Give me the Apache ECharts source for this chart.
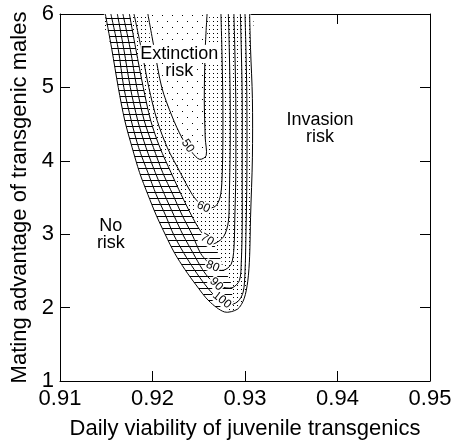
<!DOCTYPE html>
<html><head><meta charset="utf-8">
<script src="https://cdn.jsdelivr.net/npm/echarts@6/dist/echarts.min.js"></script>
<style>html,body{margin:0;padding:0;background:#fff}#c{width:456px;height:445px}</style>
</head><body><div id="c"></div>
<script>
// ---------- data ----------
const xTicks = [0.91, 0.92, 0.93, 0.94, 0.95];
const yTicks = [1, 2, 3, 4, 5, 6];
const xTitle = 'Daily viability of juvenile transgenics';
const yTitle = 'Mating advantage of transgenic males';

// outer boundary of the risk region [viability, mating advantage]
const boundary = [[0.9149,6],[0.9156,5.52],[0.9163,5.0],[0.9170,4.55],[0.9178,4.18],[0.9186,3.84],[0.9195,3.54],[0.9204,3.26],[0.9214,2.99],[0.9224,2.74],[0.9235,2.52],[0.9247,2.31],[0.9261,2.09],[0.9278,1.94],[0.9292,1.98],[0.9299,2.12],[0.9303,2.36],[0.9305,2.70],[0.9306,3.23],[0.9308,4.04],[0.9308,4.85],[0.9306,5.52],[0.9305,6]];
const contour100 = [[0.9155,6],[0.9163,5.52],[0.9169,5.0],[0.9177,4.55],[0.9185,4.18],[0.9195,3.84],[0.9204,3.54],[0.9214,3.26],[0.9223,2.99],[0.9234,2.74],[0.9245,2.52],[0.9257,2.31],[0.9269,2.14],[0.9282,2.04],[0.9292,2.08],[0.9298,2.21],[0.9300,2.49],[0.9301,2.97],[0.9302,3.77],[0.9302,4.85],[0.9301,5.52],[0.9300,6]];
const contour90 = [[0.9162,6],[0.9169,5.52],[0.9176,5.0],[0.9184,4.55],[0.9193,4.18],[0.9203,3.84],[0.9213,3.54],[0.9223,3.26],[0.9233,2.99],[0.9244,2.74],[0.9254,2.52],[0.9262,2.39],[0.9273,2.29],[0.9286,2.27],[0.9294,2.37],[0.9296,2.63],[0.9297,3.10],[0.9297,3.77],[0.9297,4.85],[0.9296,5.52],[0.9295,6]];
const contour80 = [[0.9168,6],[0.9176,5.52],[0.9183,5.0],[0.9191,4.55],[0.9201,4.18],[0.9211,3.84],[0.9222,3.54],[0.9232,3.26],[0.9243,2.99],[0.9252,2.74],[0.9259,2.63],[0.9266,2.53],[0.9277,2.51],[0.9285,2.59],[0.9288,2.80],[0.9289,3.23],[0.9290,3.77],[0.9290,4.85],[0.9289,5.52],[0.9288,6]];
const contour70 = [[0.9175,6],[0.9182,5.52],[0.9190,5.0],[0.9198,4.55],[0.9208,4.18],[0.9220,3.84],[0.9231,3.54],[0.9242,3.26],[0.9251,3.06],[0.9259,2.94],[0.9266,2.87],[0.9277,2.97],[0.9282,3.17],[0.9283,3.50],[0.9284,4.18],[0.9284,4.85],[0.9283,5.52],[0.9282,6]];
const contour60 = [[0.9180,6],[0.9188,5.52],[0.9196,5.0],[0.9205,4.55],[0.9216,4.18],[0.9230,3.84],[0.9243,3.54],[0.9251,3.42],[0.9259,3.36],[0.9268,3.38],[0.9273,3.50],[0.9275,3.71],[0.9276,4.18],[0.9276,4.85],[0.9275,5.52],[0.9274,6]];
const contour50 = [[0.9195,6],[0.9202,5.52],[0.9210,5.0],[0.9221,4.61],[0.9232,4.31],[0.9243,4.11],[0.9251,4.02],[0.9258,4.07],[0.9257,4.31],[0.9256,4.85],[0.9257,5.52],[0.9259,6]];

const contourLevels = ['100', '90', '80', '70', '60', '50'];
const contourLabelAt = [[0.9275,2.104],[0.9269,2.319],[0.9265,2.561],[0.9259,2.925],[0.9255,3.369],[0.9238,4.203]];

const regionTexts = [['Extinction','risk'], ['Invasion','risk'], ['No','risk']];
const regionAt = [[0.9229,5.34],[0.9381,4.445],[0.9155,3.0]];

// ---------- rendering ----------
const F = '"Liberation Sans", Arial, Helvetica, sans-serif';
const labelAngles = [-38, -45, -22, -30, -25, -56];

function makePattern(w, h, draw) {
  const c = document.createElement('canvas');
  c.width = w; c.height = h;
  const g = c.getContext('2d');
  g.fillStyle = '#fff'; g.fillRect(0, 0, w, h);
  g.fillStyle = '#000';
  draw(g);
  return { image: c, repeat: 'repeat' };
}
const densePat = makePattern(4, 4, g => g.fillRect(1, 1, 1, 1));
const sparsePat = makePattern(10, 12, g => { g.fillRect(2, 3, 1, 1); g.fillRect(7, 9, 1, 1); });
const hatchPat = makePattern(6, 6, g => g.fillRect(0, 0, 6, 1));

function leftBranch(c) {
  let k = 0;
  c.forEach((p, i) => { if (p[1] < c[k][1]) k = i; });
  return c.slice(0, k + 1);
}

const hatchRings = [boundary, contour100, contour90, contour80, contour70];
const allContours = [boundary, contour100, contour90, contour80, contour70, contour60, contour50];

function renderItem(params, api) {
  const co = p => api.coord(p);
  const S = 0.3;
  const ch = [];
  ch.push({ type: 'polygon', shape: { points: boundary.map(co), smooth: S }, style: { fill: densePat, stroke: null } });
  for (let i = 0; i < hatchRings.length - 1; i++) {
    const a = leftBranch(hatchRings[i]);
    const b = leftBranch(hatchRings[i + 1]).slice().reverse();
    ch.push({ type: 'polygon', shape: { points: a.concat(b).map(co), smooth: S }, style: { fill: hatchPat, stroke: null } });
  }
  ch.push({ type: 'polygon', shape: { points: contour50.map(co), smooth: S }, style: { fill: sparsePat, stroke: null } });
  allContours.forEach(c => ch.push({ type: 'polyline', shape: { points: c.map(co), smooth: S }, style: { stroke: '#000', lineWidth: 1, fill: null } }));
  contourLevels.forEach((t, i) => {
    const p = co(contourLabelAt[i]);
    ch.push({ type: 'text', x: p[0], y: p[1], rotation: labelAngles[i] * Math.PI / 180,
      style: { text: t, font: '12px ' + F, fill: '#000', align: 'center', verticalAlign: 'middle', backgroundColor: '#fff', padding: [0, 1] } });
  });
  regionTexts.forEach((lines, i) => {
    const p = co(regionAt[i]);
    const lh = 17;
    lines.forEach((t, j) => {
      ch.push({ type: 'text', x: p[0], y: p[1] + (j - (lines.length - 1) / 2) * lh,
        style: { text: t, font: '18px ' + F, fill: '#000', align: 'center', verticalAlign: 'middle', backgroundColor: '#fff' } });
    });
  });
  return { type: 'group', children: ch };
}

const axisCommon = {
  type: 'value',
  axisLine: { show: true, onZero: false, lineStyle: { color: '#000', width: 1 } },
  axisTick: { show: true, inside: true, length: 10, lineStyle: { color: '#000', width: 1 } },
  splitLine: { show: false }
};
const chart = echarts.init(document.getElementById('c'), null, { renderer: 'canvas' });
chart.setOption({
  animation: false,
  backgroundColor: '#fff',
  grid: { left: 60, right: 26, top: 14, bottom: 59 },
  xAxis: [
    Object.assign({}, axisCommon, {
      position: 'bottom', min: xTicks[0], max: xTicks[xTicks.length - 1], interval: 0.01,
      axisLabel: { color: '#000', fontSize: 22, fontFamily: F, margin: 7, formatter: v => v.toFixed(2) },
      name: xTitle, nameLocation: 'middle', nameGap: 37,
      nameTextStyle: { color: '#000', fontSize: 22, fontFamily: F }
    }),
    Object.assign({}, axisCommon, {
      position: 'top', min: xTicks[0], max: xTicks[xTicks.length - 1], interval: 0.01,
      axisLabel: { show: false }
    })
  ],
  yAxis: [
    Object.assign({}, axisCommon, {
      position: 'left', min: yTicks[0], max: yTicks[yTicks.length - 1], interval: 1,
      axisLabel: { color: '#000', fontSize: 22, fontFamily: F, margin: 6 },
      name: yTitle, nameLocation: 'middle', nameGap: 27,
      nameTextStyle: { color: '#000', fontSize: 22, fontFamily: F }
    }),
    Object.assign({}, axisCommon, {
      position: 'right', min: yTicks[0], max: yTicks[yTicks.length - 1], interval: 1,
      axisLabel: { show: false }
    })
  ],
  series: [{
    type: 'custom', coordinateSystem: 'cartesian2d', xAxisIndex: 0, yAxisIndex: 0,
    clip: true, silent: true, data: [0], renderItem: renderItem
  }]
});
</script></body></html>
